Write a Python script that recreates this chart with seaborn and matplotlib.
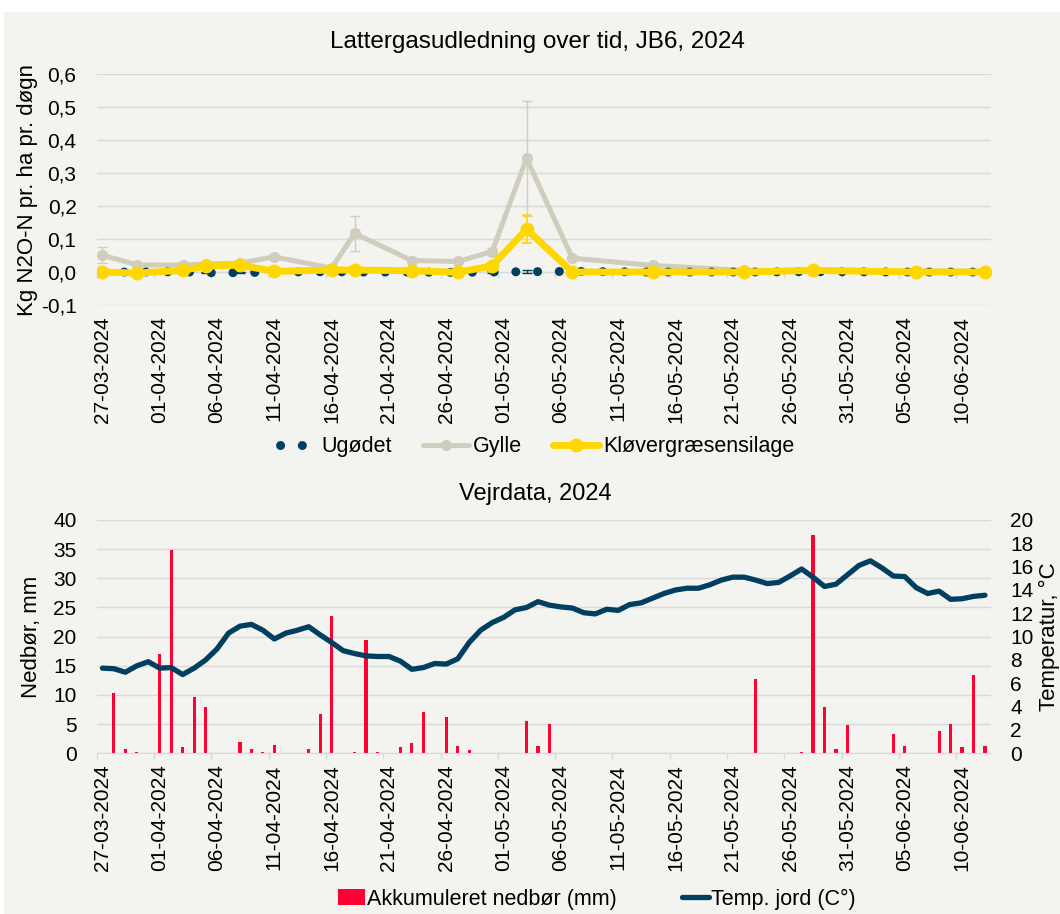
### N2O emissions + weather data, two stacked panels
import numpy as np
import pandas as pd
import matplotlib
matplotlib.use("Agg")
import matplotlib.pyplot as plt
import seaborn as sns
from matplotlib.patches import Rectangle
from matplotlib.lines import Line2D
from matplotlib.ticker import FuncFormatter

###  Data  ###
start = pd.Timestamp("2024-03-27")
n_days = 78

# measurement days, counted from 27-03-2024
meas_days = [0, 3, 7, 9, 12, 15, 20, 22, 27, 31, 34, 37, 41, 48, 56, 62, 71, 77]
ugodet = [0.0, 0.0, 0.001, -0.002, -0.002, 0.0, 0.001, 0.0, 0.0, -0.001,
          0.0, 0.001, 0.002, 0.0, 0.0, 0.001, 0.0, 0.0]
ugodet_err = [0.002, 0.002, 0.002, 0.002, 0.002, 0.002, 0.002, 0.002, 0.002, 0.002,
              0.002, 0.004, 0.002, 0.002, 0.002, 0.002, 0.002, 0.002]
gylle = [0.051, 0.022, 0.021, 0.025, 0.027, 0.046, 0.012, 0.117, 0.035, 0.032,
         0.062, 0.345, 0.042, 0.020, 0.005, 0.004, 0.003, 0.002]
gylle_err = [0.024, 0.004, 0.004, 0.005, 0.005, 0.006, 0.004, 0.053, 0.006, 0.006,
             0.010, 0.174, 0.008, 0.004, 0.002, 0.002, 0.002, 0.002]
klover = [0.0, -0.003, 0.005, 0.018, 0.021, 0.002, 0.006, 0.006, 0.004, -0.001,
          0.019, 0.130, 0.0, 0.0, 0.0, 0.005, 0.0, 0.0]
klover_err = [0.002, 0.002, 0.003, 0.004, 0.004, 0.002, 0.003, 0.003, 0.003, 0.002,
              0.005, 0.043, 0.002, 0.002, 0.001, 0.002, 0.001, 0.001]

# daily precipitation (mm), 27-03 .. 12-06
rain = [0, 10.3, 0.7, 0.2, 0, 17.0, 34.8, 1.0, 9.7, 8.0,
        0, 0, 2.0, 0.8, 0.2, 1.5, 0, 0, 0.7, 6.8,
        23.6, 0, 0.2, 19.5, 0.2, 0, 1.0, 1.7, 7.1, 0,
        6.3, 1.3, 0.6, 0, 0, 0, 0, 5.5, 1.3, 5.0,
        0, 0, 0, 0, 0, 0, 0, 0, 0, 0,
        0, 0, 0, 0, 0, 0, 0, 12.7, 0, 0,
        0, 0.2, 37.5, 8.0, 0.7, 4.8, 0, 0, 0, 3.3,
        1.3, 0, 0, 3.8, 5.0, 1.0, 13.5, 1.3]
# soil temperature (C)
temp = [7.3, 7.25, 6.95, 7.5, 7.85, 7.3, 7.35, 6.75, 7.3, 8.0,
        8.95, 10.3, 10.9, 11.05, 10.55, 9.8, 10.3, 10.55, 10.85, 10.15,
        9.5, 8.8, 8.55, 8.35, 8.3, 8.3, 7.9, 7.2, 7.35, 7.7,
        7.65, 8.1, 9.5, 10.55, 11.2, 11.65, 12.3, 12.5, 13.0, 12.7,
        12.55, 12.45, 12.05, 11.95, 12.35, 12.25, 12.75, 12.9, 13.3, 13.7,
        14.0, 14.15, 14.15, 14.45, 14.85, 15.1, 15.1, 14.85, 14.55, 14.65,
        15.2, 15.8, 15.1, 14.3, 14.5, 15.3, 16.1, 16.5, 15.9, 15.2,
        15.15, 14.2, 13.7, 13.9, 13.2, 13.25, 13.45, 13.55]

label_days = list(range(0, n_days, 5))
date_labels = [(start + pd.Timedelta(days=d)).strftime("%d-%m-%Y") for d in label_days]

df_n = pd.DataFrame({"day": meas_days, "Ugødet": ugodet, "Gylle": gylle,
                     "Kløvergræsensilage": klover})
df_w = pd.DataFrame({"day": np.arange(n_days), "rain": rain, "temp": temp})

### colours
bg = "#F3F3EF"
grid = "#D9D9D9"
navy = "#003F5F"
c_gylle = "#D0CDBD"
c_klover = "#FFD700"
c_rain = "#FF0033"

sns.set_style("white", {"axes.facecolor": bg})
plt.rcParams["font.family"] = ["Liberation Sans", "DejaVu Sans"]
for k in ["text.color", "axes.labelcolor", "xtick.color", "ytick.color"]:
    plt.rcParams[k] = "black"
fs = 15
fs_leg = 15.5
dot_style = (0, (0.01, 2.4))

fig = plt.figure(figsize=(10.6, 9.14), dpi=100, facecolor="white")
fig.patches.append(Rectangle((4 / 1060, 0), 1, 1 - 12 / 914, transform=fig.transFigure,
                             facecolor=bg, edgecolor="none", zorder=-10))

W, H = 1060, 914
ax1 = fig.add_axes([96.7 / W, 1 - 305 / H, 894 / W, 230.7 / H])
ax2 = fig.add_axes([96.7 / W, 1 - 753.3 / H, 894 / W, 233.3 / H])

comma = FuncFormatter(lambda v, p: ("%.1f" % (round(v, 2) + 0.0)).replace(".", ","))

### top panel: N2O
ax1.errorbar(meas_days, gylle, yerr=gylle_err, fmt="none", ecolor=c_gylle,
             elinewidth=1, capsize=3.5, capthick=1, zorder=2)
sns.lineplot(data=df_n, x="day", y="Gylle", ax=ax1, color=c_gylle, lw=3.6,
             marker="o", markersize=8, mec=c_gylle, mew=0, label="Gylle",
             errorbar=None, zorder=3)
ax1.errorbar(meas_days, ugodet, yerr=ugodet_err, fmt="none", ecolor=navy,
             elinewidth=1, capsize=3.5, capthick=1, zorder=3.5)
sns.lineplot(data=df_n, x="day", y="Ugødet", ax=ax1, color=navy, lw=6.5,
             linestyle=dot_style, dash_capstyle="round", label="Ugødet",
             errorbar=None, zorder=4)
ax1.errorbar(meas_days, klover, yerr=klover_err, fmt="none", ecolor=c_klover,
             elinewidth=1.2, capsize=3.5, capthick=1.2, zorder=4.5)
sns.lineplot(data=df_n, x="day", y="Kløvergræsensilage", ax=ax1, color=c_klover, lw=5,
             marker="o", markersize=10, mec=c_klover, mew=0,
             label="Kløvergræsensilage", errorbar=None, zorder=5)

ax1.set_xlim(-0.5, n_days - 0.5)
ax1.set_ylim(-0.1, 0.6)
ax1.set_yticks(np.round(np.arange(-0.1, 0.61, 0.1), 1))
ax1.yaxis.set_major_formatter(comma)
ax1.set_xticks(label_days, date_labels, rotation=90)
ax1.tick_params(axis="x", length=0, pad=8, labelsize=fs)
ax1.tick_params(axis="y", length=0, pad=14.5, labelsize=fs)
ax1.grid(axis="y", color=grid, lw=1)
ax1.set_axisbelow(True)
for s in ax1.spines.values():
    s.set_visible(False)
ax1.set_xlabel("")
ax1.set_ylabel("Kg N2O-N pr. ha pr. døgn", fontsize=16)
ax1.yaxis.set_label_coords(-0.066, 0.5)
if ax1.get_legend():
    ax1.get_legend().remove()

# category axis line crossing at y = 0
sec = ax1.secondary_xaxis(0.1 / 0.7)
sec.set_xticks(np.arange(-0.5, n_days, 5))
sec.tick_params(length=4.5, width=1, color=grid, labelbottom=False, labeltop=False)
for s in sec.spines.values():
    s.set_color(grid)

### bottom panel: weather
sns.barplot(data=df_w, x="day", y="rain", ax=ax2, native_scale=True, width=0.28,
            color=c_rain, saturation=1, linewidth=0, errorbar=None,
            label="Akkumuleret nedbør (mm)")
ax3 = ax2.twinx()
sns.lineplot(data=df_w, x="day", y="temp", ax=ax3, color=navy, lw=3.8,
             label="Temp. jord (C°)", errorbar=None)

ax2.set_xlim(-0.5, n_days - 0.5)
ax2.set_ylim(0, 40)
ax2.set_yticks(range(0, 41, 5))
ax3.set_ylim(0, 20)
ax3.set_yticks(range(0, 21, 2))
ax2.set_xticks(label_days, date_labels, rotation=90)
ax2.set_xticks(np.arange(-0.5, n_days, 5), minor=True)
ax2.tick_params(axis="x", which="major", length=0, pad=8, labelsize=fs)
ax2.tick_params(axis="x", which="minor", length=4.5, width=1, color=grid, bottom=True)
ax2.tick_params(axis="y", length=0, pad=14.5, labelsize=fs)
ax3.tick_params(axis="y", length=0, pad=14, labelsize=fs)
ax2.grid(axis="y", color=grid, lw=1)
ax2.set_axisbelow(True)
for a in (ax2, ax3):
    for s in a.spines.values():
        s.set_visible(False)
    if a.get_legend():
        a.get_legend().remove()
ax2.spines["bottom"].set_visible(True)
ax2.spines["bottom"].set_color(grid)
ax2.set_xlabel("")
ax3.set_xlabel("")
ax2.set_ylabel("Nedbør, mm", fontsize=16)
ax2.yaxis.set_label_coords(-0.061, 0.5)
ax3.set_ylabel("Temperatur, °C", fontsize=16)
ax3.yaxis.set_label_coords(1.054, 0.5)

### titles and legends
fig.text(0.507, 1 - 42 / H, "Lattergasudledning over tid, JB6, 2024",
         ha="center", va="center", fontsize=17.5)
fig.text(0.505, 1 - 494 / H, "Vejrdata, 2024", ha="center", va="center", fontsize=17)

h, l = ax1.get_legend_handles_labels()
hd = dict(zip(l, h))
# legend sample for the dotted series: two dots, as in the source
hd["Ugødet"] = Line2D([], [], color=navy, lw=6.5, linestyle=(1.52, (0.01, 2.4)),
                      dash_capstyle="round")
order = ["Ugødet", "Gylle", "Kløvergræsensilage"]
fig.legend([hd[k] for k in order], order, loc="center", bbox_to_anchor=(0.503, 1 - 447 / H),
           ncol=3, frameon=False, fontsize=fs_leg, handlelength=2.1, handletextpad=0.2,
           columnspacing=1.45)

h2, l2 = ax2.get_legend_handles_labels()
h3, l3 = ax3.get_legend_handles_labels()
fig.legend(h2 + h3, l2 + l3, loc="center", bbox_to_anchor=(0.563, 1 - 899 / H),
           ncol=2, frameon=False, fontsize=fs_leg, handlelength=1.25, handletextpad=0.1,
           columnspacing=3.0)

plt.savefig("out.png", dpi=100)
